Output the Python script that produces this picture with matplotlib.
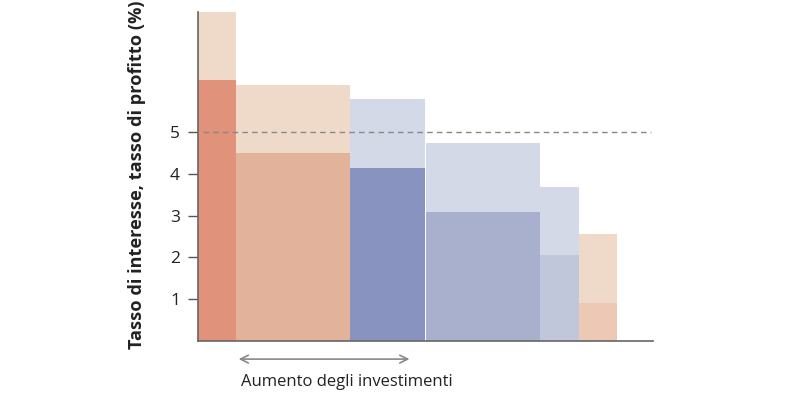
import matplotlib
matplotlib.use("Agg")
import matplotlib.pyplot as plt

plt.rcParams['font.family'] = ['Open Sans', 'DejaVu Sans']

# bar widths (relative units) and the two heights of each bar
widths = [1, 3, 2, 3.03, 1.03, 1]
profit_low = [6.24, 4.49, 4.15, 3.08, 2.06, 0.91]
profit_high = [7.87, 6.12, 5.78, 4.74, 3.68, 2.56]
low_colors = ['#E0937A', '#E3B29A', '#8893BF', '#A8B0CD', '#C1C7DB', '#EDC8B4']
high_colors = ['#EFDACA', '#EFDACA', '#D3D9E6', '#D3D9E6', '#D3D9E6', '#EFDACA']
yticks = [1, 2, 3, 4, 5]
interest_rate = 5

fig = plt.figure(figsize=(8.09, 3.99), dpi=100)
ax = fig.add_axes([198 / 809, 1 - 341 / 399, 455 / 809, 329 / 399])

left = 0
for w, lo, hi, cl, ch in zip(widths, profit_low, profit_high, low_colors, high_colors):
    ax.bar(left, hi, width=w, align='edge', color=ch, linewidth=0, zorder=1)
    ax.bar(left, lo, width=w, align='edge', color=cl, linewidth=0, zorder=2)
    left += w

ax.axhline(interest_rate, xmin=0.01, xmax=0.995, color='#888888', lw=1,
           ls=(0, (4, 3)), zorder=3)

ax.set_xlim(0, 12)
ax.set_ylim(0, 7.87)
ax.set_xticks([])
ax.set_yticks(yticks)
ax.tick_params(axis='y', length=7, width=1, color='#555555', labelsize=12.5,
               labelcolor='#222222', pad=6)
for s in ['top', 'right']:
    ax.spines[s].set_visible(False)
for s in ['left', 'bottom']:
    ax.spines[s].set_color('#666666')
    ax.spines[s].set_linewidth(1.2)

ax.set_ylabel('Tasso di interesse, tasso di profitto (%)', fontsize=13.1,
              fontweight='bold', color='#222222')
ax.yaxis.set_label_coords(-0.114, 0.505)

ax.annotate('', xy=(1.0, -0.055), xytext=(5.65, -0.055),
            xycoords=('data', 'axes fraction'),
            textcoords=('data', 'axes fraction'),
            arrowprops=dict(arrowstyle='<->', color='#888888', lw=1.2,
                            mutation_scale=14), annotation_clip=False)
ax.text(3.93, -0.125, 'Aumento degli investimenti', transform=ax.get_xaxis_transform(),
        ha='center', va='center', fontsize=12, color='#222222')

fig.savefig('out.png', dpi=100)
